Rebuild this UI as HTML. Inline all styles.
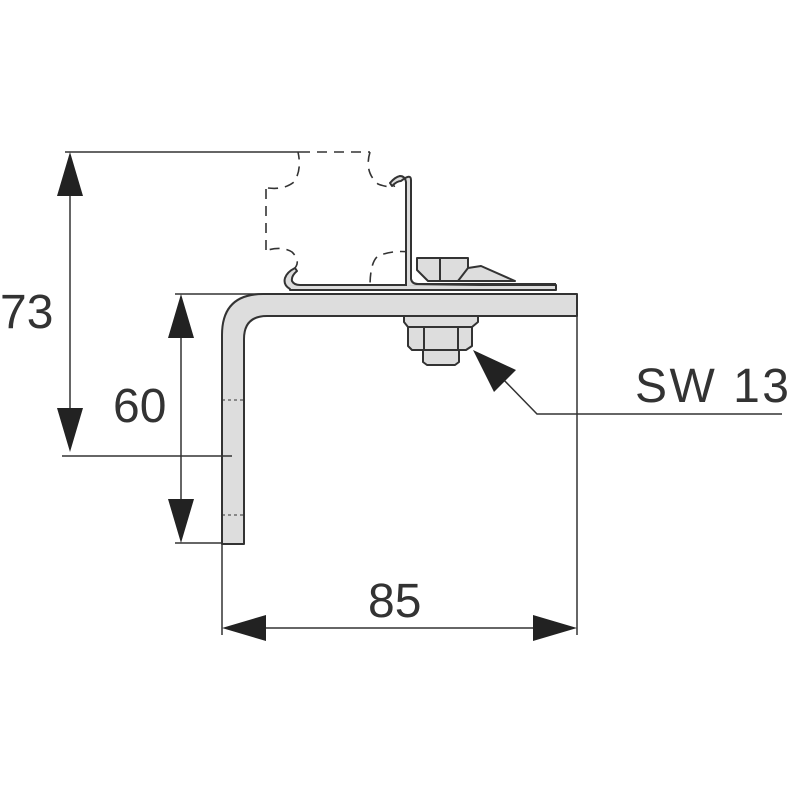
<!DOCTYPE html>
<html><head><style>body{margin:0;background:#fff}svg{display:block}</style></head><body>
<svg width="792" height="792" viewBox="0 0 792 792" xmlns="http://www.w3.org/2000/svg" font-family="Liberation Sans, sans-serif">
<g stroke="#333" stroke-width="1.6" fill="none">
<path d="M300 152 H370 M370 152 Q364 172 378 184 Q388 188 395 186 M410 186 V252 M410 252 Q392 250 378 256 Q370 262 370 287 M370 287 H300 M293 270 Q302 262 292 252 Q282 246 268 250 M266 250 V188 M268 188 Q284 190 294 182 Q302 170 298 152" stroke-dasharray="10,7"/>
</g>
<g stroke="#333" stroke-width="2" stroke-linejoin="round">
<path d="M263 294 H577 V316 H267 Q244 316 244 339 V544 H222 V335 Q222 294 263 294 Z" fill="#ddd"/>
<path d="M290 289 Q283 285 285 278 Q287 272 295 268 L297 271 Q291 276 292 281 Q294 285 300 285 H556 V290 H290 Z" fill="#ddd"/>
<path d="M406 286 V182 Q405 176 400 176 Q395 177 390 183 L392 186 Q397 181 401 181 Q411 173 411 180 V279 Q412 284 418 284 H556" fill="#ddd"/>
<path d="M417 258 H468 V270 L458 281 H428 L417 270 Z" fill="#ddd"/>
<path d="M440 258 V281" fill="none"/>
<path d="M468 268 L481 266 L515 281 H458 Z" fill="#ddd"/>
<path d="M404 316 H478 V322 L472 327 V346 L466 350 H412 L408 346 V327 L404 322 Z" fill="#ddd"/>
<path d="M424 327 V350 M458 327 V350 M408 327 H472" fill="none"/>
<path d="M423 350 H459 V362 L455 365 H427 L423 362 Z" fill="#ddd"/>
</g>
<g stroke="#333" stroke-width="1.5" fill="none">
<path d="M222 400 H244 M222 515 H244" stroke-width="1" stroke-dasharray="3,3"/>
<path d="M65 152 H300 M62 456 H232 M70 190 V415"/>
<path d="M175 294 H270 M175 543 H222 M181 330 V505"/>
<path d="M222 544 V635 M577 316 V635 M262 628 H537"/>
<path d="M500 376 L537 414 H782"/>
</g>
<g fill="#222">
<path d="M70 152 L57 196 L83 196 Z M70 452 L57 408 L83 408 Z"/>
<path d="M181 294 L168 338 L194 338 Z M181 543 L168 499 L194 499 Z"/>
<path d="M222 628 L266 615 L266 641 Z M577 628 L533 615 L533 641 Z"/>
<path d="M473 350 L516 370 L494 392 Z"/>
</g>
<g fill="#333" font-size="48">
<text x="0" y="328">73</text>
<text x="113" y="422">60</text>
<text x="368" y="617">85</text>
<text x="635" y="402" textLength="154" lengthAdjust="spacing">SW 13</text>
</g>
</svg>
</body></html>
